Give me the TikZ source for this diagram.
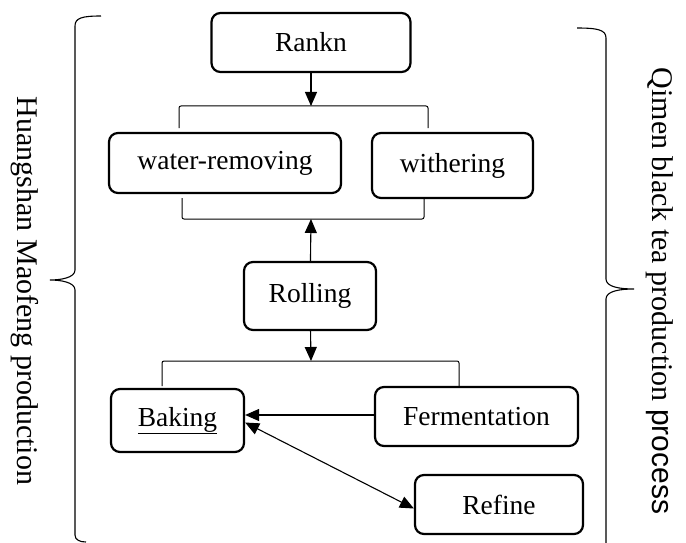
\documentclass[tikz,border=0pt]{standalone}
\usepackage{fontspec}
\setmainfont{Liberation Serif}
\newfontfamily\arialfont{Liberation Sans}
\usetikzlibrary{arrows.meta}
\tikzset{
  stage/.style={draw, line width=2.2pt, rounded corners=9pt, inner sep=0pt,
    font=\fontsize{27.5}{30}\selectfont},
  link/.style={line width=1.1pt, -{Triangle[length=14pt,width=12pt]}},
  bracket/.style={line width=1pt, rounded corners=2pt},
  brace/.style={line width=1.1pt},
  side/.style={rotate=-90, font=\fontsize{30}{32}\selectfont}
}
\begin{document}
\begin{tikzpicture}[x=1pt,y=-1pt]
      \useasboundingbox (0,0) rectangle (686,543);
      \draw
        (311,42.5) node[stage, minimum width=199pt, minimum height=59pt] (rankn){Rankn}
        (225,163) node[stage, minimum width=232pt, minimum height=60pt] (water){water-removing}
        (452.5,165.5) node[stage, minimum width=161pt, minimum height=65pt] (wither){withering}
        (310,296) node[stage, minimum width=132pt, minimum height=68pt] (rolling){Rolling}
        (177.5,420.5) node[stage, minimum width=133pt, minimum height=63pt] (baking){\underline{Baking}}
        (476.5,416.5) node[stage, minimum width=203pt, minimum height=59pt] (ferment){Fermentation}
        (499,504.5) node[stage, minimum width=168pt, minimum height=59pt] (refine){Refine};
      \coordinate (top) at (311,106);
      \coordinate (mid) at (311,219);
      \coordinate (low) at (311,361);
      % brackets
      \draw[bracket] (179,128) |- (top) -| (428,128);
      \draw[bracket] (182,198) |- (mid) -| (424,198);
      \draw[bracket] (162,386) |- (low) -| (459,386);
      \begin{scope}[link]
        \draw (rankn) to (top);
        \draw (rolling) to (mid);
        \draw (rolling) to (low);
        \draw ([yshift=1.5pt]ferment.west) to ([yshift=1.5pt]ferment.west -| baking.east);
        \draw[{Triangle[length=14pt,width=12pt]}-{Triangle[length=14pt,width=12pt]}] ([yshift=-2pt]baking.east) to ([yshift=-4pt]refine.west);
      \end{scope}
      % braces
      \draw[brace] (101,16) .. controls (82,16) and (75,18) .. (75,26) -- (75,270)
        .. controls (75,278) and (60,280) .. (50,280)
        .. controls (60,280) and (75,282) .. (75,290) -- (75,535)
        .. controls (75,540) and (80,542) .. (86,542);
      \draw[brace] (577,28) .. controls (598,28) and (606,30) .. (606,38) -- (606,279)
        .. controls (606,287) and (620,289) .. (634,289)
        .. controls (620,289) and (606,291) .. (606,299) -- (606,543);
      \node[side] (hs) at (25,291) {Huangshan Maofeng production};
      \node[side] (qm) at (660,291) {Qimen black tea production {\arialfont process}};
    \end{tikzpicture}
\end{document}
